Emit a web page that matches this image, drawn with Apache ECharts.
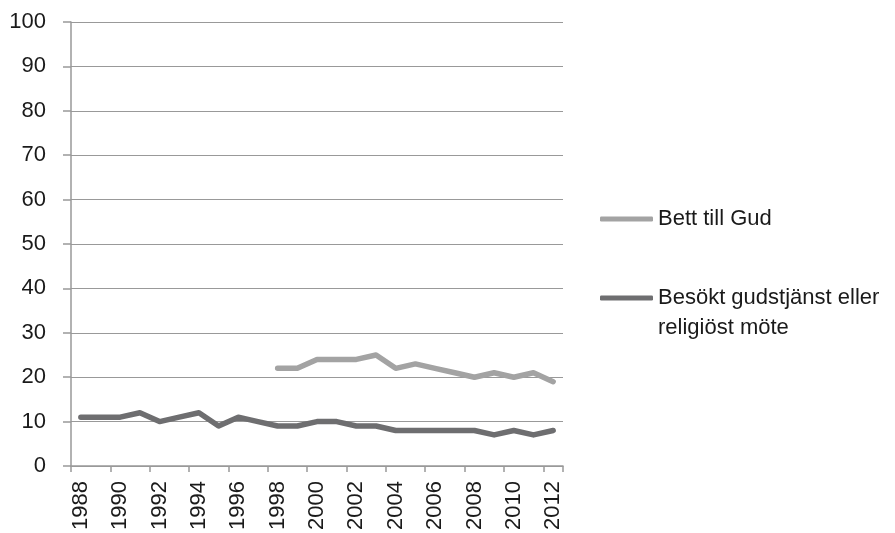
<!DOCTYPE html>
<html><head><meta charset="utf-8">
<script src="https://cdn.jsdelivr.net/npm/echarts@6/dist/echarts.min.js"></script>
<style>html,body{margin:0;padding:0;background:#fff}#c{width:895px;height:533px}</style>
</head><body><div id="c"></div>
<script>
const years = ['1988','1989','1990','1991','1992','1993','1994','1995','1996','1997','1998','1999','2000','2001','2002','2003','2004','2005','2006','2007','2008','2009','2010','2011','2012'];
const bettTillGud = [null,null,null,null,null,null,null,null,null,null,22,22,24,24,24,25,22,23,22,21,20,21,20,21,19];
const besokt = [11,11,11,12,10,11,12,9,11,10,9,9,10,10,9,9,8,8,8,8,8,7,8,7,8];
const yTicks = {min:0, max:100, interval:10};
const name1 = 'Bett till Gud';
const name2 = 'Besökt gudstjänst eller\nreligiöst möte';

const chart = echarts.init(document.getElementById('c'));
const font = 'Liberation Sans, Arial, sans-serif';
chart.setOption({
  animation:false,
  grid:{left:71, right:332, top:22, bottom:67, containLabel:false},
  legend:[
    {data:[name1], orient:'vertical', left:600, top:204, padding:0, icon:'roundRect', itemWidth:53, itemHeight:5,
     textStyle:{fontFamily:font, fontSize:22, color:'#1a1a1a', lineHeight:30}},
    {data:[name2], orient:'vertical', left:600, top:253, padding:0, icon:'roundRect', itemWidth:53, itemHeight:5,
     formatter: function(n){ return '\n' + n; },
     textStyle:{fontFamily:font, fontSize:22, color:'#1a1a1a', lineHeight:30}}
  ],
  xAxis:{type:'category', data:years, boundaryGap:true,
    axisLine:{lineStyle:{color:'#999', width:1.5}},
    axisTick:{show:true, length:6, inside:false, lineStyle:{color:'#999', width:1.5}},
    axisLabel:{rotate:90, interval:1, margin:15, fontFamily:font, fontSize:22, color:'#1a1a1a'}},
  yAxis:{type:'value', min:yTicks.min, max:yTicks.max, interval:yTicks.interval,
    axisLine:{show:true, lineStyle:{color:'#999', width:1.5}},
    axisTick:{show:true, length:8, lineStyle:{color:'#999', width:1.5}},
    splitLine:{lineStyle:{color:'#999', width:1.2}},
    axisLabel:{margin:25, fontFamily:font, fontSize:22, color:'#1a1a1a'}},
  series:[
    {name:name1, type:'line', data:bettTillGud, symbol:'none', connectNulls:false,
     lineStyle:{color:'#a3a3a3', width:5.5, cap:'round', join:'round'}, itemStyle:{color:'#a3a3a3'}},
    {name:name2, type:'line', data:besokt, symbol:'none',
     lineStyle:{color:'#6e6e70', width:5.5, cap:'round', join:'round'}, itemStyle:{color:'#6e6e70'}}
  ]
});
</script></body></html>
